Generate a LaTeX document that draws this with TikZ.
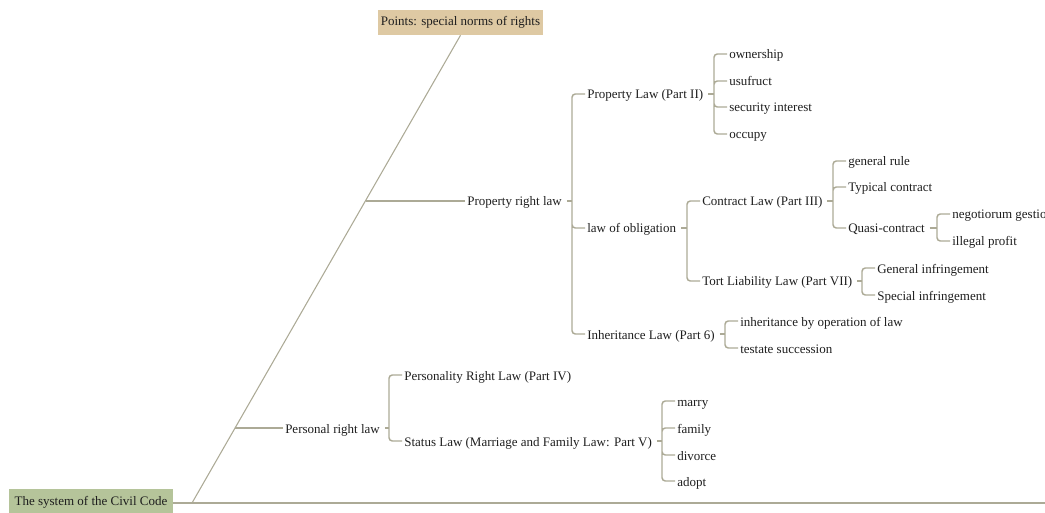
\documentclass[tikz,border=0pt]{standalone}
\usepackage{fontspec}
\setmainfont{Liberation Serif}
\usetikzlibrary{calc}
\definecolor{ink}{RGB}{30,30,30}
\definecolor{wire}{RGB}{172,170,150}
\definecolor{rootfill}{RGB}{181,196,154}
\definecolor{headfill}{RGB}{222,201,163}
\tikzset{
  link/.style={draw=wire,line width=1.1pt,rounded corners=2.5pt},
  item/.style={anchor=west,inner sep=1.5pt,text height=8pt,text depth=0.5pt,
    font=\fontsize{9.75}{11}\selectfont,text=ink},
  tag/.style={inner sep=0pt,font=\fontsize{9.75}{11}\selectfont,text=ink},
}
\begin{document}
\begin{tikzpicture}[x=0.75pt,y=-0.75pt]
\useasboundingbox (0,0) rectangle (1045,513);
\node[tag,fill=rootfill,minimum width=123pt,minimum height=19.5pt] (root) at (91,502) {The system of the Civil Code};
\node[tag,fill=headfill,minimum width=123.75pt,minimum height=18.75pt] (pts) at (460.5,22.5) {Points: special norms of rights};
\coordinate (mainEnd) at (1045,503);
\coordinate (base) at (192,503);
\coordinate (tip) at (pts.south);
\draw[link] (root.east |- mainEnd) -- (mainEnd);
\draw[draw=wire,line width=0.8pt] (base) -- (tip);
% first level
\node[item] (prw) at (465,201) {Property right law};
\node[item] (pers) at (283,428) {Personal right law};
\coordinate (kProp) at ($(base)!0.6473!(tip)$);
\coordinate (kPers) at ($(base)!0.1591!(tip)$);
\draw[link] (kProp |- prw.west) -- (prw.west);
\draw[link] (kPers |- pers.west) -- (pers.west);
% property right law
\node[item] (pl) at (585,94) {Property Law (Part II)};
\node[item] (oblig) at (585,228) {law of obligation};
\node[item] (inher) at (585,334) {Inheritance Law (Part 6)};
\node[item] (own) at (727,54) {ownership};
\node[item] (usu) at (727,81) {usufruct};
\node[item] (sec) at (727,107) {security interest};
\node[item] (occ) at (727,134) {occupy};
\node[item] (con) at (700,201) {Contract Law (Part III)};
\node[item] (tort) at (700,281) {Tort Liability Law (Part VII)};
\node[item] (gen) at (846,161) {general rule};
\node[item] (typ) at (846,187) {Typical contract};
\node[item] (quasi) at (846,228) {Quasi-contract};
\node[item] (neg) at (950,214) {negotiorum gestio};
\node[item] (ill) at (950,241) {illegal profit};
\node[item] (ginf) at (875,268) {General infringement};
\node[item] (sinf) at (875,295) {Special infringement};
\node[item] (iop) at (738,321) {inheritance by operation of law};
\node[item] (tes) at (738,348) {testate succession};
% personal right law
\node[item] (pri) at (402,375) {Personality Right Law (Part IV)};
\node[item] (stat) at (402,441) {Status Law (Marriage and Family Law: Part V)};
\node[item] (mar) at (675,401) {marry};
\node[item] (fam) at (675,428) {family};
\node[item] (div) at (675,455) {divorce};
\node[item] (ado) at (675,481) {adopt};
% forks
\coordinate (jPrw) at ($(pl.west)+(-13,0)$);
\draw[link,shorten <=2pt] (prw.east) -- (jPrw |- prw.east);
\draw[link] (jPrw |- prw.east) |- (pl.west) (jPrw |- prw.east) |- (oblig.west) (jPrw |- prw.east) |- (inher.west);
\coordinate (jPl) at ($(own.west)+(-13,0)$);
\draw[link,shorten <=2pt] (pl.east) -- (jPl |- pl.east);
\draw[link] (jPl |- pl.east) |- (own.west) (jPl |- pl.east) |- (usu.west) (jPl |- pl.east) |- (sec.west) (jPl |- pl.east) |- (occ.west);
\coordinate (jObl) at ($(con.west)+(-13,0)$);
\draw[link,shorten <=2pt] (oblig.east) -- (jObl |- oblig.east);
\draw[link] (jObl |- oblig.east) |- (con.west) (jObl |- oblig.east) |- (tort.west);
\coordinate (jCon) at ($(gen.west)+(-13,0)$);
\draw[link,shorten <=2pt] (con.east) -- (jCon |- con.east);
\draw[link] (jCon |- con.east) |- (gen.west) (jCon |- con.east) |- (typ.west) (jCon |- con.east) |- (quasi.west);
\coordinate (jQua) at ($(neg.west)+(-13,0)$);
\draw[link,shorten <=2pt] (quasi.east) -- (jQua |- quasi.east);
\draw[link] (jQua |- quasi.east) |- (neg.west) (jQua |- quasi.east) |- (ill.west);
\coordinate (jTor) at ($(ginf.west)+(-13,0)$);
\draw[link,shorten <=2pt] (tort.east) -- (jTor |- tort.east);
\draw[link] (jTor |- tort.east) |- (ginf.west) (jTor |- tort.east) |- (sinf.west);
\coordinate (jInh) at ($(iop.west)+(-13,0)$);
\draw[link,shorten <=2pt] (inher.east) -- (jInh |- inher.east);
\draw[link] (jInh |- inher.east) |- (iop.west) (jInh |- inher.east) |- (tes.west);
\coordinate (jPer) at ($(pri.west)+(-13,0)$);
\draw[link,shorten <=2pt] (pers.east) -- (jPer |- pers.east);
\draw[link] (jPer |- pers.east) |- (pri.west) (jPer |- pers.east) |- (stat.west);
\coordinate (jSta) at ($(mar.west)+(-13,0)$);
\draw[link,shorten <=2pt] (stat.east) -- (jSta |- stat.east);
\draw[link] (jSta |- stat.east) |- (mar.west) (jSta |- stat.east) |- (fam.west) (jSta |- stat.east) |- (div.west) (jSta |- stat.east) |- (ado.west);
\end{tikzpicture}
\end{document}
